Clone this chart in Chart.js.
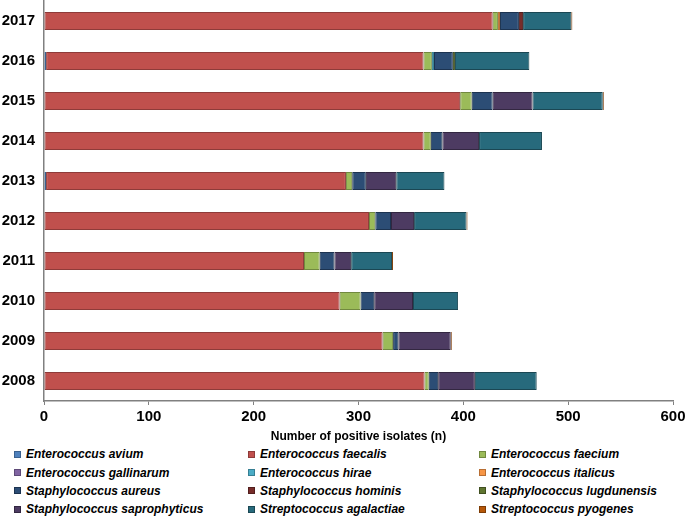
<!DOCTYPE html>
<html>
<head>
<meta charset="utf-8">
<script src="https://cdn.jsdelivr.net/npm/chart.js@4/dist/chart.umd.min.js"></script>
<style>
  body { margin: 0; background: #fff; }
  #wrap { position: relative; width: 685px; height: 516px; overflow: hidden; }
  #legend { position: absolute; left: 0; top: 445px; width: 685px;
    display: grid; grid-template-columns: 234px 231px 220px; grid-auto-rows: 18.4px;
    font: italic bold 12px "Liberation Sans", Arial, sans-serif; color: #000; }
  #legend div { display: flex; align-items: center; padding-left: 14px; white-space: nowrap; }
  #legend span.box { display: inline-block; width: 7px; height: 7px; margin-right: 5px; box-sizing: border-box; border: 1px solid; }
</style>
</head>
<body>
<div id="wrap">
  <canvas id="isolatesChart" width="685" height="445"></canvas>
  <div id="legend"></div>
</div>
<script>
const years = ['2017', '2016', '2015', '2014', '2013', '2012', '2011', '2010', '2009', '2008'];

const species = [
  'Enterococcus avium', 'Enterococcus faecalis', 'Enterococcus faecium',
  'Enterococcus gallinarum', 'Enterococcus hirae', 'Enterococcus italicus',
  'Staphylococcus aureus', 'Staphylococcus hominis', 'Staphylococcus lugdunensis',
  'Staphylococcus saprophyticus', 'Streptococcus agalactiae', 'Streptococcus pyogenes'
];

// values per species, years 2017 -> 2008
const avium         = [0, 2, 0, 0, 2, 0, 0, 0, 0, 0];
const faecalis      = [428, 360, 397, 362, 286, 310, 248, 282, 323, 363];
const faecium       = [5, 8, 11, 7, 6, 6, 15, 20, 10, 4];
const gallinarum    = [0, 0, 0, 0, 0, 0, 0, 0, 0, 0];
const hirae         = [0, 2, 0, 0, 0, 0, 0, 0, 0, 0];
const italicus      = [2, 0, 0, 0, 0, 0, 0, 0, 0, 0];
const aureus        = [18, 18, 20, 11, 13, 15, 14, 13, 5, 9];
const hominis       = [4, 0, 0, 0, 0, 0, 0, 0, 0, 0];
const lugdunensis   = [0, 2, 0, 0, 0, 0, 0, 0, 0, 0];
const saprophyticus = [0, 0, 38, 35, 29, 22, 16, 37, 50, 35];
const agalactiae    = [46, 71, 67, 60, 46, 50, 39, 43, 0, 59];
const pyogenes      = [1, 0, 1, 0, 0, 1, 1, 0, 1, 0];

const xTicks = [0, 100, 200, 300, 400, 500, 600];

const seriesValues = [avium, faecalis, faecium, gallinarum, hirae, italicus,
  aureus, hominis, lugdunensis, saprophyticus, agalactiae, pyogenes];

const fills = ['#4F81BD', '#C0504D', '#9BBB59', '#8064A2', '#4BACC6', '#F79646',
  '#2C4D75', '#772C2A', '#5F7530', '#4D3B62', '#276A7C', '#B65708'];
const edges = ['#3A6190', '#8E3B39', '#71893F', '#5E4A78', '#367F93', '#B86E33',
  '#1C3350', '#521E1D', '#405020', '#332741', '#1A4753', '#7E3C05'];

const data = {
  labels: years,
  datasets: species.map((name, i) => ({
    label: name,
    data: seriesValues[i],
    backgroundColor: fills[i],
    borderColor: edges[i],
    borderWidth: 1,
    borderSkipped: false,
    barPercentage: 0.45,
    categoryPercentage: 1,
  })),
};

const config = {
  type: 'bar',
  data: data,
  options: {
    indexAxis: 'y',
    responsive: false,
    animation: false,
    layout: { padding: { top: 1, right: 12, left: 0, bottom: 0 } },
    plugins: {
      legend: { display: false },
      tooltip: { enabled: false },
    },
    scales: {
      x: {
        stacked: true,
        min: 0,
        max: 600,
        afterBuildTicks: (scale) => { scale.ticks = xTicks.map(v => ({ value: v })); },
        afterFit: (scale) => {
          scale.height = 44;
          scale.paddingLeft = 0;
          scale.paddingRight = 0;
        },
        grid: { drawOnChartArea: false, tickLength: 4, color: '#808080', lineWidth: 1 },
        border: { color: '#808080', width: 1.5 },
        ticks: {
          padding: 3,
          color: '#000',
          font: { family: 'Liberation Sans', size: 15, weight: 'bold' },
        },
        title: {
          display: true,
          text: 'Number of positive isolates (n)',
          color: '#000',
          padding: { top: 0, bottom: 1 },
          font: { family: 'Liberation Sans', size: 12, weight: 'bold' },
        },
      },
      y: {
        stacked: true,
        afterFit: (scale) => {
          scale.width = 44;
          scale.paddingTop = 0;
          scale.paddingBottom = 0;
        },
        grid: { display: false, drawTicks: false, tickLength: 0 },
        border: { color: '#808080', width: 1.5 },
        ticks: {
          padding: 9,
          color: '#000',
          font: { family: 'Liberation Sans', size: 15, weight: 'bold' },
        },
      },
    },
  },
};

const isolatesChart = new Chart(document.getElementById('isolatesChart'), config);

// legend in three columns, built from the same names and colours
const legend = document.getElementById('legend');
species.forEach((name, i) => {
  const item = document.createElement('div');
  item.innerHTML = '<span class="box" style="background:' + fills[i] + ';border-color:' + edges[i] + '"></span>' + name;
  legend.appendChild(item);
});
</script>
</body>
</html>
